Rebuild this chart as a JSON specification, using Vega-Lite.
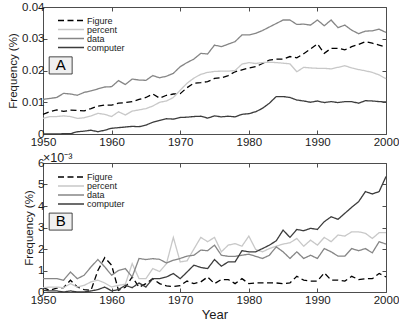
{
  "$schema": "https://vega.github.io/schema/vega-lite/v6.json",
  "padding": {"left": 7, "top": 0, "right": 0, "bottom": 0},
  "background": "white",
  "bounds": "flush",
  "spacing": 29,
  "config": {
    "font": "Liberation Sans",
    "view": {"stroke": "#4d4d4d", "strokeWidth": 1},
    "axis": {"domain": false, "grid": false, "tickColor": "#4d4d4d", "tickSize": -4, "labelFontSize": 11.5, "labelColor": "#1a1a1a", "labelFont": "Liberation Sans", "titleFont": "Liberation Sans", "titleFontWeight": "normal", "titleColor": "#1a1a1a", "labelPadding": 3},
    "axisX": {"labelPadding": 6}
  },
  "datasets": {
    "top": [
      {"year":1950,"Figure":0.0062,"percent":0.0049,"data":0.0109,"computer":0.0000},
      {"year":1951,"Figure":0.0070,"percent":0.0055,"data":0.0112,"computer":0.0000},
      {"year":1952,"Figure":0.0076,"percent":0.0055,"data":0.0115,"computer":0.0000},
      {"year":1953,"Figure":0.0071,"percent":0.0057,"data":0.0128,"computer":0.0001},
      {"year":1954,"Figure":0.0075,"percent":0.0055,"data":0.0126,"computer":0.0001},
      {"year":1955,"Figure":0.0074,"percent":0.0049,"data":0.0122,"computer":0.0007},
      {"year":1956,"Figure":0.0073,"percent":0.0051,"data":0.0131,"computer":0.0009},
      {"year":1957,"Figure":0.0080,"percent":0.0057,"data":0.0136,"computer":0.0012},
      {"year":1958,"Figure":0.0088,"percent":0.0065,"data":0.0142,"computer":0.0007},
      {"year":1959,"Figure":0.0091,"percent":0.0062,"data":0.0148,"computer":0.0012},
      {"year":1960,"Figure":0.0091,"percent":0.0055,"data":0.0149,"computer":0.0018},
      {"year":1961,"Figure":0.0097,"percent":0.0070,"data":0.0168,"computer":0.0020},
      {"year":1962,"Figure":0.0099,"percent":0.0060,"data":0.0156,"computer":0.0022},
      {"year":1963,"Figure":0.0102,"percent":0.0072,"data":0.0173,"computer":0.0024},
      {"year":1964,"Figure":0.0109,"percent":0.0076,"data":0.0170,"computer":0.0023},
      {"year":1965,"Figure":0.0115,"percent":0.0080,"data":0.0169,"computer":0.0028},
      {"year":1966,"Figure":0.0126,"percent":0.0088,"data":0.0184,"computer":0.0037},
      {"year":1967,"Figure":0.0113,"percent":0.0100,"data":0.0177,"computer":0.0043},
      {"year":1968,"Figure":0.0122,"percent":0.0104,"data":0.0182,"computer":0.0048},
      {"year":1969,"Figure":0.0126,"percent":0.0115,"data":0.0191,"computer":0.0047},
      {"year":1970,"Figure":0.0127,"percent":0.0138,"data":0.0212,"computer":0.0052},
      {"year":1971,"Figure":0.0146,"percent":0.0160,"data":0.0225,"computer":0.0053},
      {"year":1972,"Figure":0.0160,"percent":0.0176,"data":0.0236,"computer":0.0055},
      {"year":1973,"Figure":0.0162,"percent":0.0188,"data":0.0254,"computer":0.0056},
      {"year":1974,"Figure":0.0165,"percent":0.0194,"data":0.0252,"computer":0.0050},
      {"year":1975,"Figure":0.0175,"percent":0.0197,"data":0.0280,"computer":0.0057},
      {"year":1976,"Figure":0.0177,"percent":0.0198,"data":0.0275,"computer":0.0054},
      {"year":1977,"Figure":0.0184,"percent":0.0198,"data":0.0283,"computer":0.0056},
      {"year":1978,"Figure":0.0196,"percent":0.0200,"data":0.0291,"computer":0.0054},
      {"year":1979,"Figure":0.0202,"percent":0.0220,"data":0.0312,"computer":0.0062},
      {"year":1980,"Figure":0.0208,"percent":0.0225,"data":0.0312,"computer":0.0064},
      {"year":1981,"Figure":0.0212,"percent":0.0222,"data":0.0317,"computer":0.0070},
      {"year":1982,"Figure":0.0222,"percent":0.0225,"data":0.0326,"computer":0.0081},
      {"year":1983,"Figure":0.0233,"percent":0.0226,"data":0.0337,"computer":0.0097},
      {"year":1984,"Figure":0.0236,"percent":0.0225,"data":0.0348,"computer":0.0118},
      {"year":1985,"Figure":0.0236,"percent":0.0223,"data":0.0359,"computer":0.0118},
      {"year":1986,"Figure":0.0244,"percent":0.0221,"data":0.0359,"computer":0.0115},
      {"year":1987,"Figure":0.0240,"percent":0.0196,"data":0.0345,"computer":0.0107},
      {"year":1988,"Figure":0.0253,"percent":0.0210,"data":0.0346,"computer":0.0104},
      {"year":1989,"Figure":0.0268,"percent":0.0208,"data":0.0343,"computer":0.0100},
      {"year":1990,"Figure":0.0284,"percent":0.0207,"data":0.0359,"computer":0.0104},
      {"year":1991,"Figure":0.0254,"percent":0.0207,"data":0.0341,"computer":0.0099},
      {"year":1992,"Figure":0.0270,"percent":0.0205,"data":0.0359,"computer":0.0102},
      {"year":1993,"Figure":0.0270,"percent":0.0210,"data":0.0335,"computer":0.0099},
      {"year":1994,"Figure":0.0265,"percent":0.0215,"data":0.0343,"computer":0.0102},
      {"year":1995,"Figure":0.0275,"percent":0.0208,"data":0.0327,"computer":0.0102},
      {"year":1996,"Figure":0.0282,"percent":0.0203,"data":0.0316,"computer":0.0097},
      {"year":1997,"Figure":0.0291,"percent":0.0199,"data":0.0324,"computer":0.0105},
      {"year":1998,"Figure":0.0286,"percent":0.0194,"data":0.0325,"computer":0.0104},
      {"year":1999,"Figure":0.0280,"percent":0.0186,"data":0.0330,"computer":0.0102},
      {"year":2000,"Figure":0.0274,"percent":0.0174,"data":0.0320,"computer":0.0101}
    ],
    "bottom": [
      {"year":1950,"Figure":0.20,"percent":0.20,"data":0.62,"computer":0.08},
      {"year":1951,"Figure":0.08,"percent":0.23,"data":0.62,"computer":0.05},
      {"year":1952,"Figure":0.18,"percent":0.23,"data":0.62,"computer":0.05},
      {"year":1953,"Figure":0.20,"percent":0.20,"data":0.55,"computer":0.00},
      {"year":1954,"Figure":0.55,"percent":0.39,"data":0.93,"computer":0.05},
      {"year":1955,"Figure":0.23,"percent":0.23,"data":0.62,"computer":0.00},
      {"year":1956,"Figure":0.11,"percent":0.31,"data":0.78,"computer":0.00},
      {"year":1957,"Figure":0.08,"percent":0.47,"data":1.17,"computer":0.05},
      {"year":1958,"Figure":1.00,"percent":0.55,"data":1.51,"computer":0.11},
      {"year":1959,"Figure":1.60,"percent":0.42,"data":1.17,"computer":0.23},
      {"year":1960,"Figure":1.25,"percent":0.23,"data":0.78,"computer":0.05},
      {"year":1961,"Figure":0.08,"percent":0.31,"data":1.00,"computer":0.11},
      {"year":1962,"Figure":0.22,"percent":0.36,"data":1.09,"computer":0.31},
      {"year":1963,"Figure":0.70,"percent":1.32,"data":0.70,"computer":0.20},
      {"year":1964,"Figure":0.22,"percent":0.62,"data":1.56,"computer":0.42},
      {"year":1965,"Figure":0.39,"percent":0.62,"data":1.51,"computer":0.23},
      {"year":1966,"Figure":0.62,"percent":1.09,"data":1.55,"computer":0.62},
      {"year":1967,"Figure":0.39,"percent":0.95,"data":1.52,"computer":0.62},
      {"year":1968,"Figure":0.28,"percent":1.32,"data":1.35,"computer":0.70},
      {"year":1969,"Figure":0.25,"percent":2.54,"data":1.48,"computer":0.86},
      {"year":1970,"Figure":0.30,"percent":1.40,"data":1.56,"computer":0.62},
      {"year":1971,"Figure":0.51,"percent":1.45,"data":1.67,"computer":0.93},
      {"year":1972,"Figure":0.39,"percent":2.00,"data":1.71,"computer":1.25},
      {"year":1973,"Figure":0.47,"percent":2.54,"data":1.95,"computer":1.14},
      {"year":1974,"Figure":0.70,"percent":2.34,"data":1.92,"computer":1.09},
      {"year":1975,"Figure":0.39,"percent":2.54,"data":2.18,"computer":1.51},
      {"year":1976,"Figure":0.58,"percent":1.87,"data":1.71,"computer":1.20},
      {"year":1977,"Figure":0.58,"percent":2.18,"data":1.66,"computer":1.40},
      {"year":1978,"Figure":0.39,"percent":2.25,"data":1.66,"computer":1.40},
      {"year":1979,"Figure":0.62,"percent":2.13,"data":1.71,"computer":1.92},
      {"year":1980,"Figure":0.39,"percent":2.60,"data":1.76,"computer":1.87},
      {"year":1981,"Figure":0.42,"percent":1.98,"data":1.66,"computer":1.87},
      {"year":1982,"Figure":0.42,"percent":1.87,"data":1.56,"computer":2.02},
      {"year":1983,"Figure":0.42,"percent":2.02,"data":1.71,"computer":2.18},
      {"year":1984,"Figure":0.42,"percent":2.13,"data":2.10,"computer":2.38},
      {"year":1985,"Figure":0.39,"percent":2.23,"data":1.87,"computer":2.88},
      {"year":1986,"Figure":0.42,"percent":2.29,"data":1.56,"computer":2.54},
      {"year":1987,"Figure":0.73,"percent":2.49,"data":1.87,"computer":2.91},
      {"year":1988,"Figure":0.55,"percent":2.13,"data":1.56,"computer":2.85},
      {"year":1989,"Figure":0.51,"percent":2.41,"data":1.71,"computer":2.96},
      {"year":1990,"Figure":0.51,"percent":2.18,"data":1.56,"computer":2.91},
      {"year":1991,"Figure":0.89,"percent":2.54,"data":2.02,"computer":3.27},
      {"year":1992,"Figure":0.55,"percent":2.34,"data":1.87,"computer":3.50},
      {"year":1993,"Figure":0.55,"percent":2.65,"data":1.67,"computer":3.38},
      {"year":1994,"Figure":0.51,"percent":2.60,"data":1.67,"computer":3.66},
      {"year":1995,"Figure":0.73,"percent":2.80,"data":2.02,"computer":3.94},
      {"year":1996,"Figure":0.58,"percent":2.80,"data":1.92,"computer":4.20},
      {"year":1997,"Figure":0.62,"percent":2.73,"data":2.02,"computer":4.67},
      {"year":1998,"Figure":0.62,"percent":2.49,"data":1.82,"computer":4.56},
      {"year":1999,"Figure":0.86,"percent":2.76,"data":2.34,"computer":4.67},
      {"year":2000,"Figure":0.70,"percent":2.76,"data":2.23,"computer":5.37}
    ]
  },
  "resolve": {"scale": {"color": "independent", "strokeDash": "independent"}, "legend": {"color": "independent", "strokeDash": "independent"}},
  "vconcat": [
    {
      "width": 343,
      "height": 127,
      "layer": [
        {
          "data": {"name": "top"},
          "transform": [{"fold": ["Figure", "percent", "data", "computer"], "as": ["term", "freq"]}],
          "mark": {"type": "line", "strokeWidth": 1.3},
          "encoding": {
            "x": {"field": "year", "type": "quantitative", "scale": {"domain": [1950, 2000], "nice": false, "zero": false},
                  "axis": {"values": [1950, 1960, 1970, 1980, 1990, 2000], "title": null, "format": "d", "labelFlush": false}},
            "y": {"field": "freq", "type": "quantitative", "scale": {"domain": [0, 0.04], "nice": false},
                  "axis": {"values": [0, 0.01, 0.02, 0.03, 0.04], "labelExpr": "datum.value == 0 ? '0' : format(datum.value, '.2f')", "title": "Frequency (%)", "titleFontSize": 11.5, "titlePadding": 3}},
            "color": {"field": "term", "type": "nominal",
                      "scale": {"domain": ["Figure", "percent", "data", "computer"], "range": ["#000000", "#c8c8c8", "#868686", "#3c3c3c"]},
                      "legend": {"orient": "none", "legendX": 14, "legendY": 9.5, "title": null, "symbolType": "stroke", "symbolSize": 676, "symbolStrokeWidth": 1.3, "labelFontSize": 9, "clipHeight": 8, "rowPadding": 0, "labelOffset": 2, "padding": 0, "labelColor": "#1a1a1a"}},
            "strokeDash": {"field": "term", "type": "nominal",
                      "scale": {"domain": ["Figure", "percent", "data", "computer"], "range": [[6, 3.5], [1, 0], [1, 0], [1, 0]]},
                      "legend": {"orient": "none", "legendX": 14, "legendY": 9.5, "title": null, "symbolType": "stroke", "symbolSize": 676, "symbolStrokeWidth": 1.3, "labelFontSize": 9, "clipHeight": 8, "rowPadding": 0, "labelOffset": 2, "padding": 0, "labelColor": "#1a1a1a"}}
          }
        },
        {
          "data": {"values": [{}]},
          "mark": {"type": "rect", "fill": "#f0f0f0", "stroke": "#1a1a1a", "strokeWidth": 0.8},
          "encoding": {
            "x": {"datum": 1950.9, "type": "quantitative", "axis": null},
            "x2": {"datum": 1954.25},
            "y": {"datum": 0.0243, "type": "quantitative", "axis": null},
            "y2": {"datum": 0.0189}
          }
        },
        {
          "data": {"values": [{}]},
          "mark": {"type": "text", "text": "A", "fontSize": 15, "baseline": "middle", "align": "center", "color": "#000000"},
          "encoding": {
            "x": {"datum": 1952.57, "type": "quantitative", "axis": {"orient": "top", "labels": false, "title": null, "values": [1950, 1960, 1970, 1980, 1990, 2000]}},
            "y": {"datum": 0.0216, "type": "quantitative", "axis": {"orient": "right", "labels": false, "title": null, "values": [0, 0.01, 0.02, 0.03, 0.04]}}
          }
        }
      ],
      "resolve": {"axis": {"x": "independent", "y": "independent"}}
    },
    {
      "width": 343,
      "height": 129,
      "title": {"text": "×10⁻³", "anchor": "start", "frame": "group", "fontSize": 12.5, "fontWeight": "normal", "offset": -7, "font": "Liberation Sans", "color": "#1a1a1a"},
      "layer": [
        {
          "data": {"name": "bottom"},
          "transform": [{"fold": ["Figure", "percent", "data", "computer"], "as": ["term", "freq"]}],
          "mark": {"type": "line", "strokeWidth": 1.3},
          "encoding": {
            "x": {"field": "year", "type": "quantitative", "scale": {"domain": [1950, 2000], "nice": false, "zero": false},
                  "axis": {"values": [1950, 1960, 1970, 1980, 1990, 2000], "title": "Year", "titleFontSize": 13, "titlePadding": 3, "format": "d", "labelFlush": false}},
            "y": {"field": "freq", "type": "quantitative", "scale": {"domain": [0, 6], "nice": false},
                  "axis": {"values": [0, 1, 2, 3, 4, 5, 6], "format": "d", "title": "Frequency (%)", "titleFontSize": 11.5, "titlePadding": 3}},
            "color": {"field": "term", "type": "nominal",
                      "scale": {"domain": ["Figure", "percent", "data", "computer"], "range": ["#000000", "#c8c8c8", "#868686", "#3c3c3c"]},
                      "legend": {"orient": "none", "legendX": 14, "legendY": 10, "title": null, "symbolType": "stroke", "symbolSize": 676, "symbolStrokeWidth": 1.3, "labelFontSize": 9, "clipHeight": 8, "rowPadding": 0, "labelOffset": 2, "padding": 0, "labelColor": "#1a1a1a"}},
            "strokeDash": {"field": "term", "type": "nominal",
                      "scale": {"domain": ["Figure", "percent", "data", "computer"], "range": [[6, 3.5], [1, 0], [1, 0], [1, 0]]},
                      "legend": {"orient": "none", "legendX": 14, "legendY": 10, "title": null, "symbolType": "stroke", "symbolSize": 676, "symbolStrokeWidth": 1.3, "labelFontSize": 9, "clipHeight": 8, "rowPadding": 0, "labelOffset": 2, "padding": 0, "labelColor": "#1a1a1a"}}
          }
        },
        {
          "data": {"values": [{}]},
          "mark": {"type": "rect", "fill": "#f0f0f0", "stroke": "#1a1a1a", "strokeWidth": 0.8},
          "encoding": {
            "x": {"datum": 1950.9, "type": "quantitative", "axis": null},
            "x2": {"datum": 1954.25},
            "y": {"datum": 3.67, "type": "quantitative", "axis": null},
            "y2": {"datum": 2.88}
          }
        },
        {
          "data": {"values": [{}]},
          "mark": {"type": "text", "text": "B", "fontSize": 15, "baseline": "middle", "align": "center", "color": "#000000"},
          "encoding": {
            "x": {"datum": 1952.57, "type": "quantitative", "axis": {"orient": "top", "labels": false, "title": null, "values": [1950, 1960, 1970, 1980, 1990, 2000]}},
            "y": {"datum": 3.28, "type": "quantitative", "axis": {"orient": "right", "labels": false, "title": null, "values": [0, 1, 2, 3, 4, 5, 6]}}
          }
        }
      ],
      "resolve": {"axis": {"x": "independent", "y": "independent"}}
    }
  ]
}
